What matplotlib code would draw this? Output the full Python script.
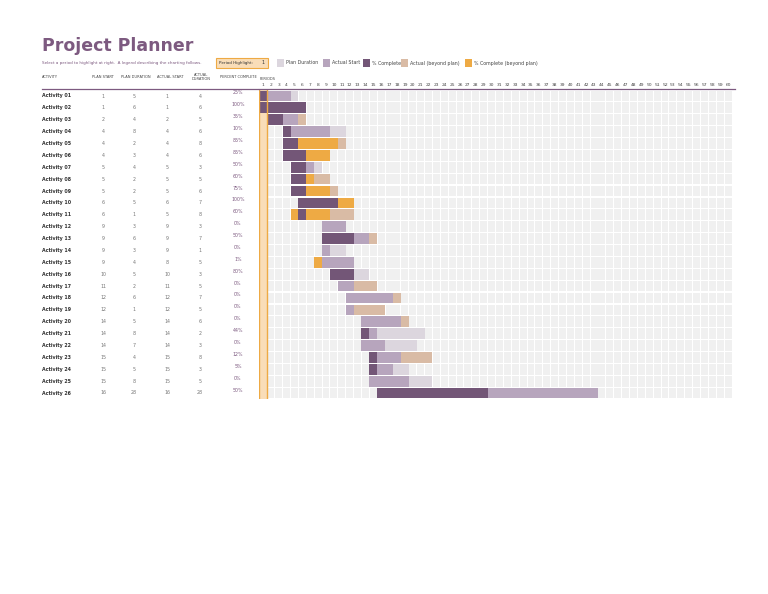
import matplotlib
matplotlib.use("Agg")
import matplotlib.pyplot as plt
from matplotlib.patches import Rectangle

activities = [f"Activity {i:02d}" for i in range(1, 27)]
plan_start = [1,1,2,4,4,4,5,5,5,6,6,9,9,9,9,10,11,12,12,14,14,14,15,15,15,16]
plan_dur   = [5,6,4,8,2,3,4,2,2,5,1,3,6,3,4,5,2,6,1,5,8,7,4,5,8,28]
act_start  = [1,1,2,4,4,4,5,5,5,6,5,9,9,9,8,10,11,12,12,14,14,14,15,15,15,16]
act_dur    = [4,6,5,6,8,6,3,5,6,7,8,3,7,1,5,3,5,7,5,6,2,3,8,3,5,28]
pct        = [25,100,35,10,85,85,50,60,75,100,60,0,50,0,1,80,0,0,0,0,44,0,12,5,0,50]
periods = list(range(1, 61))
highlight = 1

C_PLAN = "#dcd6de"; C_ACT = "#b7a5bd"; C_DONE = "#735677"
C_BEY = "#d9bba5"; C_BEYDONE = "#eeaa44"; C_BG = "#f0f0f0"
TXT = "#444444"; PURP = "#7d5a80"

W, H = 768, 594
fig = plt.figure(figsize=(W/100, H/100), dpi=100)
fig.patch.set_facecolor("white")
def fx(x): return x / W
def fy(y): return 1 - y / H

fig.text(fx(42), fy(46), "Project Planner", fontsize=12.5, fontweight="bold", color=PURP, va="center")
fig.text(fx(42), fy(63), "Select a period to highlight at right.  A legend describing the charting follows.",
         fontsize=3.0, color=PURP, va="center")
fig.patches.append(Rectangle((fx(216), fy(68)), 52/W, 10/H, transform=fig.transFigure,
                             facecolor="#f9ddb8", edgecolor="#eeaa44", lw=0.8))
fig.text(fx(219), fy(63), "Period Highlight:", fontsize=3.0, color="#333333", va="center")
fig.text(fx(263), fy(63), str(highlight), fontsize=3.5, color="#333333", va="center", ha="center")
legend = [(277, C_PLAN, "Plan Duration"), (323, C_ACT, "Actual Start"), (363, C_DONE, "% Complete"),
          (401, C_BEY, "Actual (beyond plan)"), (465, C_BEYDONE, "% Complete (beyond plan)")]
for x, c, t in legend:
    fig.patches.append(Rectangle((fx(x), fy(67)), 7/W, 8/H, transform=fig.transFigure, facecolor=c))
    fig.text(fx(x + 9), fy(63), t, fontsize=3.4, color=TXT, va="center")

hdr = [(42, "ACTIVITY", "left"), (103, "PLAN START", "center"), (136, "PLAN DURATION", "center"),
       (170, "ACTUAL START", "center"), (201, "ACTUAL\nDURATION", "center"), (238, "PERCENT COMPLETE", "center")]
for x, t, ha in hdr:
    fig.text(fx(x), fy(77), t, fontsize=2.6, color=TXT, va="center", ha=ha, linespacing=0.9)
fig.text(fx(260), fy(79), "PERIODS", fontsize=2.6, color=TXT, va="center")
fig.lines.append(plt.Line2D([fx(42), fx(258)], [fy(89), fy(89)], transform=fig.transFigure, color=PURP, lw=0.9))

ax = fig.add_axes([fx(259), fy(399), (732 - 259)/W, (399 - 90)/H])
ax.set_xlim(0.5, 60.5); ax.set_ylim(26.5, 0.5); ax.axis("off")
for p in periods:
    fig.text(fx(259 + (p - 0.5) * (473/60)), fy(85), str(p), fontsize=3.2, color=TXT, ha="center", va="center")
fig.lines.append(plt.Line2D([fx(259), fx(735)], [fy(89), fy(89)], transform=fig.transFigure, color=PURP, lw=0.9))

for r in range(26):
    y = r + 1
    for p in periods:
        ax.add_patch(Rectangle((p - 0.5 + 0.06, y - 0.45), 0.88, 0.9, facecolor=C_BG, lw=0))
ax.add_patch(Rectangle((highlight - 0.5, 0.5), 1, 26, facecolor="#f9ddb8", lw=0, zorder=1))
for r in range(26):
    y = r + 1
    ps, pd, a_s, ad, pc = plan_start[r], plan_dur[r], act_start[r], act_dur[r], pct[r]
    done_end = a_s + ad * pc / 100.0
    for p in periods:
        inplan = ps <= p < ps + pd
        inact = a_s <= p < a_s + ad
        done = inact and p < done_end
        if inact and inplan:
            c = C_DONE if done else C_ACT
        elif inact:
            c = C_BEYDONE if done else C_BEY
        elif inplan:
            c = C_PLAN
        else:
            continue
        ax.add_patch(Rectangle((p - 0.5, y - 0.45), 1, 0.9, facecolor=c, lw=0, zorder=2))
for xe in (highlight - 0.5, highlight + 0.5):
    ax.axvline(xe, color="#eeaa44", lw=1.0, zorder=3)

for r in range(26):
    y = 96 + r * 11.88
    fig.text(fx(42), fy(y), activities[r], fontsize=3.4, color="#333333", va="center", fontweight="bold")
    for x, v in [(103, plan_start[r]), (134, plan_dur[r]), (167, act_start[r]), (200, act_dur[r])]:
        fig.text(fx(x), fy(y), str(v), fontsize=3.4, color="#777777", va="center", ha="center")
    fig.text(fx(238), fy(y - 3), f"{pct[r]}%", fontsize=3.4, color=PURP, va="center", ha="center")

fig.savefig("out.png", dpi=100)
